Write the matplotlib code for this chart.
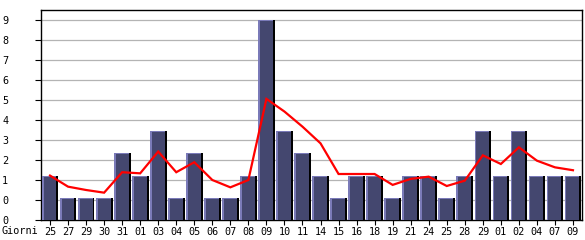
import matplotlib
matplotlib.use("Agg")
import matplotlib.pyplot as plt

days = ["25", "27", "29", "30", "31", "01", "03", "04", "05", "06", "07", "08",
        "09", "10", "11", "14", "15", "16", "18", "19", "21", "24", "25", "28",
        "29", "01", "02", "04", "07", "09"]
counts = [2, 1, 1, 1, 3, 2, 4, 1, 3, 1, 1, 2,
          9, 4, 3, 2, 1, 2, 2, 1, 2, 2, 1, 2,
          4, 2, 4, 2, 2, 2]
trend = [2.0, 1.5, 1.35, 1.23, 2.15, 2.1, 3.08, 2.15, 2.6, 1.8, 1.47, 1.8,
         5.45, 4.88, 4.2, 3.45, 2.07, 2.07, 2.07, 1.58, 1.85, 1.95, 1.53, 1.77,
         2.91, 2.52, 3.27, 2.67, 2.37, 2.24]
ytick_vals = [0, 0.9, 1.8, 2.7, 3.6, 4.5, 5.4, 6.3, 7.2, 8.1, 9.0]
ytick_labels = ["0", "0", "1", "2", "3", "4", "5", "6", "7", "8", "9"]
xlabel_text = "Giorni"

W, H = 585, 240
PT = 72 / 100  # points per pixel
fig = plt.figure(figsize=(W / 100, H / 100), dpi=100)
fig.patch.set_facecolor("white")
ax = fig.add_axes([41 / W, 20 / H, 541 / W, 210 / H])

font = "DejaVu Sans Mono"
fs = 7.3

main_c = "#44476f"
lav_c = "#7a7ab8"
shadow_c = "#000000"

x = list(range(len(days)))
bw = 0.926
off = -0.46
sw = 0.11
lw_ = 0.1
top_h = 0.05

ax.bar([i + off for i in x], counts, width=bw, align="edge", color=shadow_c, zorder=2, linewidth=0)
ax.bar([i + off for i in x], counts, width=bw - sw, align="edge", color=main_c, zorder=3, linewidth=0)
ax.bar([i + off for i in x], counts, width=lw_, align="edge", color=lav_c, zorder=4, linewidth=0)
ax.bar([i + off for i in x], [top_h] * len(x), bottom=[c - top_h for c in counts],
       width=bw - sw, align="edge", color=lav_c, zorder=4, linewidth=0)

ax.plot(x, trend, color="#ff0000", lw=1.6, zorder=5, solid_joinstyle="miter")

ax.set_xlim(-0.5, len(days) - 0.5)
ax.set_ylim(0, 9.45)

ax.set_yticks(ytick_vals)
ax.set_yticklabels(ytick_labels, fontfamily=font, fontsize=fs, ha="left")
ax.tick_params(axis="y", length=6 * PT, width=0.8, pad=33 * PT, color="black")
for v in ytick_vals[1:]:
    ax.axhline(v, color="#b4b4b4", lw=0.9, zorder=1)

ax.set_xticks(x)
ax.set_xticklabels(days, fontfamily=font, fontsize=fs)
ax.tick_params(axis="x", length=5 * PT, width=0.8, pad=2 * PT, color="black")

for s in ax.spines.values():
    s.set_color("black")
    s.set_linewidth(1.0)

fig.text(2 / W, 1 - 231 / H, xlabel_text, fontfamily=font, fontsize=fs,
         ha="left", va="center")

fig.savefig("out.png", dpi=100)
